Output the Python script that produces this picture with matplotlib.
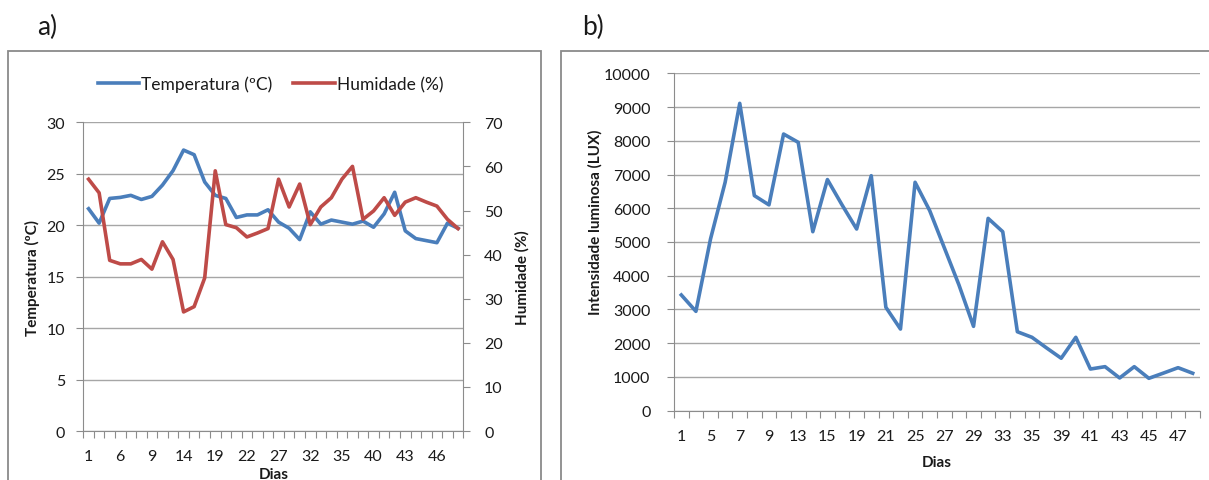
import numpy as np
import matplotlib
matplotlib.use("Agg")
import matplotlib.pyplot as plt
from matplotlib.patches import Rectangle

plt.rcParams['font.family'] = ['Lato', 'DejaVu Sans']

# Sampling days (category axis shared by both panels)
days = [1, 3, 5, 6, 7, 8, 9, 11, 13, 14, 15, 17, 19, 20, 21, 22, 25, 26,
        27, 28, 29, 32, 33, 34, 35, 37, 39, 40, 41, 42, 43, 44, 45, 46, 47, 48]

temperatura = [21.6, 20.2, 22.6, 22.7, 22.9, 22.5, 22.8, 23.9, 25.3, 27.3,
               26.85, 24.2, 22.9, 22.6, 20.75, 21.0, 21.0, 21.5, 20.3, 19.7,
               18.6, 21.3, 20.1, 20.5, 20.3, 20.1, 20.4, 19.8, 21.1, 23.2,
               19.45, 18.7, 18.5, 18.3, 20.2, 19.7]

humidade = [57.1, 54.0, 38.7, 37.9, 37.9, 38.9, 36.7, 42.9, 38.9, 27.0,
            28.2, 34.7, 59.0, 46.8, 46.1, 44.0, 44.9, 45.9, 57.1, 50.8,
            56.0, 46.8, 50.8, 52.9, 57.1, 60.0, 48.0, 49.9, 52.9, 48.9,
            51.9, 52.9, 51.9, 51.0, 48.0, 45.9]

luminosidade = [3430, 2945, 5090, 6770, 9110, 6375, 6100, 8200, 7955, 5305,
                6850, 6100, 5385, 6965, 3065, 2420, 6770, 5930, 4830, 3730,
                2500, 5700, 5305, 2340, 2175, 1860, 1555, 2175, 1235, 1305,
                970, 1305, 960, 1115, 1275, 1110]

BLUE = '#4a7ebb'
RED = '#be4b48'
GRID = '#a6a6a6'
AXIS = '#8c8c8c'
TXT = '#1a1a1a'
LW = 2.6

W, H = 1209, 481
fig = plt.figure(figsize=(W / 100, H / 100), dpi=100)


def rect(x0, y0, x1, y1):
    return [x0 / W, 1 - y1 / H, (x1 - x0) / W, (y1 - y0) / H]


# Chart frames
for (x0, y0, x1, y1) in [(8, 52, 541, 500), (561, 52, 1230, 500)]:
    fig.patches.append(Rectangle((x0 / W, 1 - y1 / H), (x1 - x0) / W, (y1 - y0) / H,
                                 transform=fig.transFigure, fill=False,
                                 edgecolor='#8a8a8a', linewidth=1.3, clip_on=False))

fig.text(37 / W, 1 - 27 / H, 'a)', fontsize=19, va='center', ha='left', color=TXT)
fig.text(582 / W, 1 - 27 / H, 'b)', fontsize=19, va='center', ha='left', color=TXT)

x = np.arange(len(days))


def style_category_axis(ax, step, pad):
    ax.set_xlim(-0.5, len(days) - 0.5)
    ax.set_xticks(np.arange(-0.5, len(days)), labels=[])
    ax.set_xticks(x[::step], labels=[str(d) for d in days[::step]], minor=True)
    ax.tick_params(axis='x', which='major', length=5, color=AXIS, direction='out')
    ax.tick_params(axis='x', which='minor', length=0, pad=pad, labelsize=11.5, labelcolor=TXT)


# ---- a) temperature and humidity ----
ax1 = fig.add_axes(rect(83.3, 123.3, 463.3, 432))
ax2 = ax1.twinx()
l1, = ax1.plot(x, temperatura, color=BLUE, lw=LW, solid_joinstyle='round')
l2, = ax2.plot(x, humidade, color=RED, lw=LW, solid_joinstyle='round')
ax1.set_ylim(0, 30)
ax1.set_yticks(np.arange(0, 31, 5))
ax2.set_ylim(0, 70)
ax2.set_yticks(np.arange(0, 71, 10))
ax1.grid(axis='y', color=GRID, lw=1)
ax1.set_axisbelow(True)
style_category_axis(ax1, 3, 13)
for a in (ax1, ax2):
    for s in a.spines.values():
        s.set_visible(False)
ax1.spines['left'].set_visible(True)
ax1.spines['left'].set_color(AXIS)
ax1.spines['bottom'].set_visible(True)
ax1.spines['bottom'].set_color(AXIS)
ax2.spines['right'].set_visible(True)
ax2.spines['right'].set_color(AXIS)
ax1.tick_params(axis='y', length=5, color=AXIS, pad=8, labelsize=11.5, labelcolor=TXT)
ax2.tick_params(axis='y', length=5, color=AXIS, pad=10, labelsize=11.5, labelcolor=TXT)
ax1.set_ylabel('Temperatura (ºC)', fontsize=11, fontweight='bold', color=TXT)
ax1.yaxis.set_label_coords(-0.115, 0.5)
ax2.set_ylabel('Humidade (%)', fontsize=11, fontweight='bold', color=TXT)
ax2.yaxis.set_label_coords(1.135, 0.5)
ax1.set_xlabel('Dias', fontsize=11, fontweight='bold', color=TXT)
ax1.xaxis.set_label_coords(0.5, -0.118)

fig.legend([l1, l2], ['Temperatura (ºC)', 'Humidade (%)'], ncol=2, frameon=False,
           loc='center left', bbox_to_anchor=(82 / W, 1 - 85 / H), fontsize=12.5,
           handlelength=2.4, handletextpad=0.1, columnspacing=1.2, labelcolor=TXT)

# ---- b) light intensity ----
ax3 = fig.add_axes(rect(674, 74.3, 1200, 411.7))
ax3.plot(x, luminosidade, color=BLUE, lw=LW, solid_joinstyle='round')
ax3.set_ylim(0, 10000)
ax3.set_yticks(np.arange(0, 10001, 1000))
ax3.grid(axis='y', color=GRID, lw=1)
ax3.set_axisbelow(True)
style_category_axis(ax3, 2, 13)
for s in ax3.spines.values():
    s.set_visible(False)
ax3.spines['left'].set_visible(True)
ax3.spines['left'].set_color(AXIS)
ax3.spines['bottom'].set_visible(True)
ax3.spines['bottom'].set_color(AXIS)
ax3.tick_params(axis='y', length=5, color=AXIS, pad=12, labelsize=11.5, labelcolor=TXT)
ax3.set_ylabel('Intensidade luminosa (LUX)', fontsize=11, fontweight='bold', color=TXT)
ax3.yaxis.set_label_coords(-0.136, 0.562)
ax3.set_xlabel('Dias', fontsize=11, fontweight='bold', color=TXT)
ax3.xaxis.set_label_coords(0.5, -0.131)

fig.savefig('out.png', dpi=100)
